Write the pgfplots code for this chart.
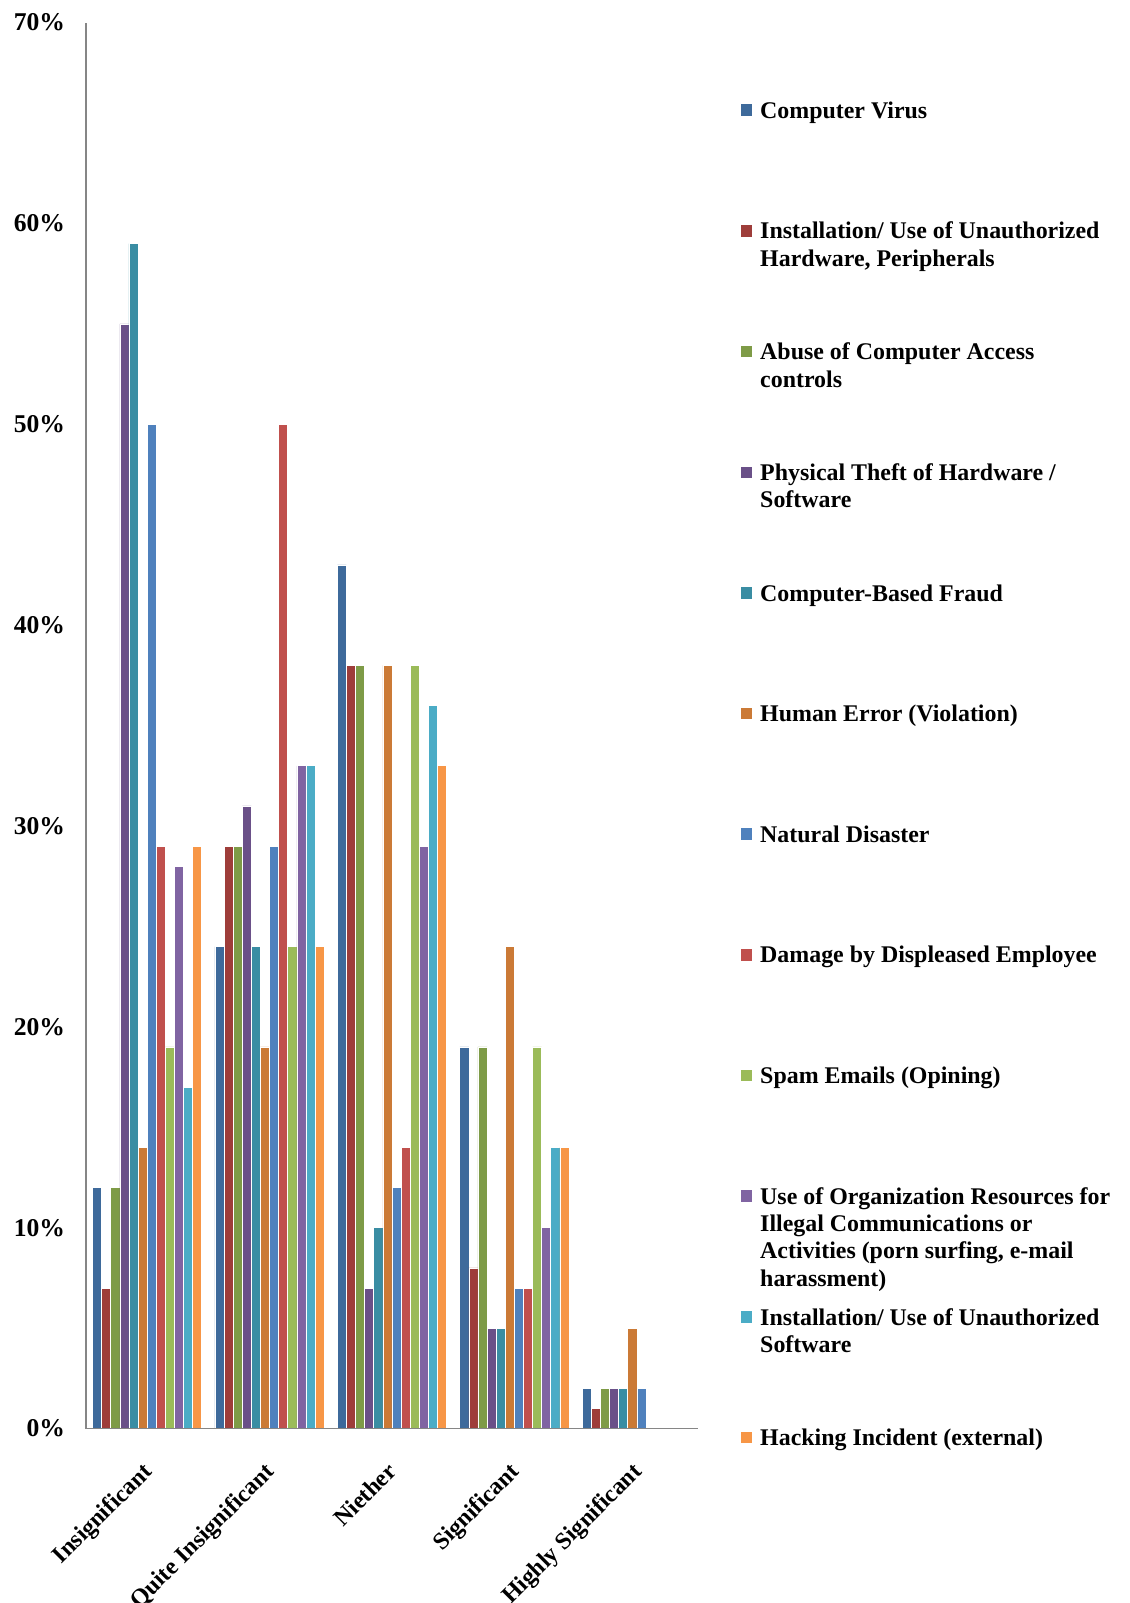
\documentclass[border=0pt]{standalone}
\usepackage{fontspec}
\setmainfont{Liberation Serif}
\usepackage{pgfplots}
\pgfplotsset{compat=1.18}

% series colours
\definecolor{c1}{HTML}{3E6A9B}
\definecolor{c2}{HTML}{9E3D3A}
\definecolor{c3}{HTML}{7E9B47}
\definecolor{c4}{HTML}{6A5088}
\definecolor{c5}{HTML}{3A8DA3}
\definecolor{c6}{HTML}{CB7A36}
\definecolor{c7}{HTML}{4F81BD}
\definecolor{c8}{HTML}{C0504D}
\definecolor{c9}{HTML}{9BBB59}
\definecolor{c10}{HTML}{8064A2}
\definecolor{c11}{HTML}{4BACC6}
\definecolor{c12}{HTML}{F79646}
\definecolor{axisgray}{HTML}{868686}

% legend text: top-aligned paragraph, wrapped by hand
\newcommand{\lentry}[1]{\parbox[t]{200pt}{\raggedright #1}}

\begin{document}
\begin{tikzpicture}
\useasboundingbox (-43pt,-87.2pt) rectangle (522pt,714.3pt);
\begin{axis}[
  scale only axis,
  width=306pt, height=703pt,
  axis on top,
  ybar=0pt, bar width=4.55pt,
  xmin=-0.5, xmax=4.5,
  ymin=0, ymax=70,
  axis lines=left,
  axis line style={draw=axisgray, line width=0.7pt, -},
  major tick length=0pt,
  xtick={0,1,2,3,4},
  xticklabels={Insignificant, Quite Insignificant, Niether, Significant, Highly Significant},
  xticklabel style={font=\fontsize{12}{14}\selectfont\bfseries, xshift=-3pt, yshift=-16pt, rotate=45, anchor=north east, inner sep=0pt},
  ytick={0,10,...,70},
  yticklabel={\pgfmathprintnumber{\tick}\%},
  /pgf/number format/assume math mode=true,
  yticklabel style={font=\fontsize{12.8}{15}\selectfont\bfseries, anchor=east, inner sep=0pt, xshift=-10.3pt},
  every axis plot/.append style={draw=white, line width=0.3pt},
  % the invisible strut fixes the pitch of every legend row
  legend image code/.code={\fill[#1,draw=none] (0pt,1.2pt) rectangle (5.8pt,7pt);
    \path[draw=none,fill=none] (0pt,-50pt) -- (0pt,9pt);},
  legend style={at={(rel axis cs:1.069,0.947)}, anchor=north west, draw=none, fill=none,
    inner sep=0pt, row sep=0pt, column sep=2pt,
    cells={anchor=base west, inner sep=0pt},
    font=\fontsize{11.95}{13.65}\selectfont\bfseries},
]
\addplot[fill=c1]  coordinates {(0,12) (1,24) (2,43) (3,19) (4,2)};
\addplot[fill=c2]  coordinates {(0,7) (1,29) (2,38) (3,8) (4,1)};
\addplot[fill=c3]  coordinates {(0,12) (1,29) (2,38) (3,19) (4,2)};
\addplot[fill=c4]  coordinates {(0,55) (1,31) (2,7) (3,5) (4,2)};
\addplot[fill=c5]  coordinates {(0,59) (1,24) (2,10) (3,5) (4,2)};
\addplot[fill=c6]  coordinates {(0,14) (1,19) (2,38) (3,24) (4,5)};
\addplot[fill=c7]  coordinates {(0,50) (1,29) (2,12) (3,7) (4,2)};
\addplot[fill=c8]  coordinates {(0,29) (1,50) (2,14) (3,7)};
\addplot[fill=c9]  coordinates {(0,19) (1,24) (2,38) (3,19)};
\addplot[fill=c10] coordinates {(0,28) (1,33) (2,29) (3,10)};
\addplot[fill=c11] coordinates {(0,17) (1,33) (2,36) (3,14)};
\addplot[fill=c12] coordinates {(0,29) (1,24) (2,33) (3,14)};
\legend{
  \lentry{Computer Virus},
  \lentry{Installation/ Use of Unauthorized\\Hardware, Peripherals},
  \lentry{Abuse of Computer Access\\controls},
  \lentry{Physical Theft of Hardware /\\Software},
  \lentry{Computer-Based Fraud},
  \lentry{Human Error (Violation)},
  \lentry{Natural Disaster},
  \lentry{Damage by Displeased Employee},
  \lentry{Spam Emails (Opining)},
  \lentry{Use of Organization Resources for\\Illegal Communications or\\Activities (porn surfing, e-mail\\harassment)},
  \lentry{Installation/ Use of Unauthorized\\Software},
  \lentry{Hacking Incident (external)}
}
\end{axis}
\end{tikzpicture}
\end{document}
